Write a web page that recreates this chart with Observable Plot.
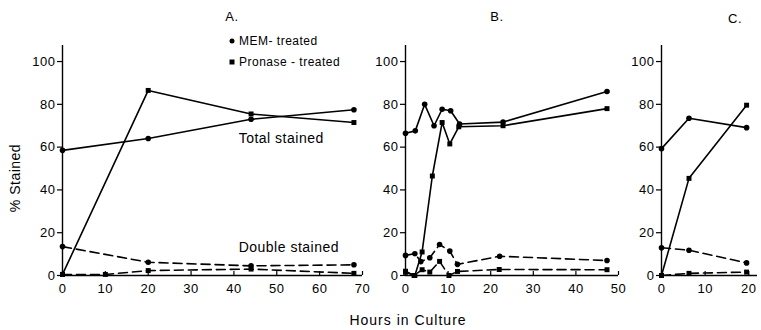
<!DOCTYPE html>
<html><head><meta charset="utf-8">
<script src="https://cdn.jsdelivr.net/npm/d3@7"></script>
<script src="https://cdn.jsdelivr.net/npm/@observablehq/plot@0.6"></script>
<style>
body{margin:0;background:#fff;}
#chart{position:relative;width:761px;height:330px;font-family:"Liberation Sans",Arial,Helvetica,sans-serif;color:#000;overflow:hidden;}
#chart svg{position:absolute;top:0;}
.lbl{position:absolute;white-space:pre;letter-spacing:0.5px;line-height:1;}
.mk{position:absolute;background:#000;width:5px;height:5px;transform:translate(-50%,-50%);}
</style></head><body><div id="chart"></div>
<script>
// ---- data ----
const treatments = ["MEM", "Pronase"];
const legendLabels = ["MEM- treated", "Pronase - treated"];
const panelLabels = ["A.", "B.", "C."];
const annotationLabels = ["Total stained", "Double stained"];
const yTicks = [0, 20, 40, 60, 80, 100];
const xTicksA = [0, 10, 20, 30, 40, 50, 60, 70];
const xTicksB = [0, 10, 20, 30, 40, 50];
const xTicksC = [0, 10, 20];

// Panel A
const hoursA = [0, 20, 44, 68];
const hoursA_pronDouble = [0, 10, 20, 44, 68];
const memTotalA = [58.5, 64, 73, 77.5];
const pronTotalA = [0.5, 86.5, 75.5, 71.5];
const memDoubleA = [13.5, 6.2, 4.5, 5];
const pronDoubleA = [0.5, 0.5, 2.3, 3, 1];

// Panel B
const hoursB_memTotal = [0, 2.3, 4.5, 6.7, 8.6, 10.6, 12.7, 22.9, 47.3];
const memTotalB = [66.5, 67.6, 80, 70, 77.7, 77, 70.8, 71.7, 86];
const hoursB_pronTotal = [0, 2.2, 3.9, 6.3, 8.6, 10.4, 12.5, 22.9, 47.3];
const pronTotalB = [1.5, 0, 11, 46.5, 71.5, 61.5, 69.5, 70, 78];
const hoursB_memDouble = [0, 2.2, 3.6, 5.7, 8, 10.4, 12.2, 22.1, 47.3];
const memDoubleB = [9.4, 10.2, 6.5, 8.3, 14.5, 11.4, 5.2, 9, 7];
const hoursB_pronDouble = [0, 2, 3.9, 5.7, 8, 10.2, 12.2, 22, 47.3];
const pronDoubleB = [2, 0, 2.7, 1.6, 6.6, 0, 1.9, 2.8, 2.7];

// Panel C
const hoursC = [0, 6.3, 19.5];
const memTotalC = [59.3, 73.5, 69.1];
const pronTotalC = [0, 45.4, 79.6];
const memDoubleC = [13, 11.8, 5.9];
const pronDoubleC = [0, 1, 1.6];

// ---- build tables ----
function series(treatment, measure, hours, values) {
  return hours.map((h, i) => ({treatment, measure, key: treatment + measure, hour: h, value: values[i]}));
}
const rowsA = [
  ...series("MEM", "total", hoursA, memTotalA),
  ...series("Pronase", "total", hoursA, pronTotalA),
  ...series("MEM", "double", hoursA, memDoubleA),
  ...series("Pronase", "double", hoursA_pronDouble, pronDoubleA)
];
const rowsB = [
  ...series("MEM", "total", hoursB_memTotal, memTotalB),
  ...series("Pronase", "total", hoursB_pronTotal, pronTotalB),
  ...series("MEM", "double", hoursB_memDouble, memDoubleB),
  ...series("Pronase", "double", hoursB_pronDouble, pronDoubleB)
];
const rowsC = [
  ...series("MEM", "total", hoursC, memTotalC),
  ...series("Pronase", "total", hoursC, pronTotalC),
  ...series("MEM", "double", hoursC, memDoubleC),
  ...series("Pronase", "double", hoursC, pronDoubleC)
];

const ink = "#000";
const font = '"Liberation Sans", Arial, Helvetica, sans-serif';

function panel({rows, width, marginLeft, marginRight, xDomain, xTicks, extra = []}) {
  return Plot.plot({
    width, height: 330,
    marginTop: 45, marginBottom: 55, marginLeft, marginRight,
    x: {domain: xDomain},
    y: {domain: [0, 107.5]},
    symbol: {domain: treatments, range: ["circle", "square"]},
    style: {fontFamily: font, fontSize: "13px", letterSpacing: "0.5px", background: "none", overflow: "visible", color: ink},
    marks: [
      Plot.axisY({ticks: yTicks, tickSize: 5, tickPadding: 2, label: null, stroke: ink, strokeWidth: 1.2}),
      Plot.axisX({ticks: xTicks, tickSize: -4, tickPadding: 12, label: null, stroke: ink, strokeWidth: 1.2}),
      Plot.ruleX([xDomain[0]], {stroke: ink, strokeWidth: 1.4}),
      Plot.ruleY([0], {stroke: ink, strokeWidth: 1.4}),
      Plot.line(rows.filter(d => d.measure === "total"), {x: "hour", y: "value", z: "key", stroke: ink, strokeWidth: 1.6}),
      Plot.line(rows.filter(d => d.measure === "double"), {x: "hour", y: "value", z: "key", stroke: ink, strokeWidth: 1.6, strokeDasharray: "9,5"}),
      Plot.dot(rows, {x: "hour", y: "value", symbol: "treatment", fill: ink, r: 2.8}),
      ...extra
    ]
  });
}

const chart = document.getElementById("chart");

const svgA = panel({
  rows: rowsA, width: 380, marginLeft: 62, marginRight: 18, xDomain: [0, 70], xTicks: xTicksA,
  extra: [
    Plot.text([annotationLabels[0]], {x: 41.1, y: 64.2, text: d => d, textAnchor: "start", fontSize: 14, fill: ink}),
    Plot.text([annotationLabels[1]], {x: 41.1, y: 13.2, text: d => d, textAnchor: "start", fontSize: 14, fill: ink})
  ]
});
svgA.style.left = "0px";
const svgB = panel({rows: rowsB, width: 258, marginLeft: 35, marginRight: 10, xDomain: [0, 50], xTicks: xTicksB});
svgB.style.left = "370px";
const svgC = panel({rows: rowsC, width: 133, marginLeft: 33, marginRight: 4, xDomain: [0, 22], xTicks: xTicksC});
svgC.style.left = "628px";
chart.append(svgA, svgB, svgC);

// ---- HTML labels ----
function label(text, x, y, size, transform) {
  const el = document.createElement("div");
  el.className = "lbl";
  el.textContent = text;
  el.style.left = x + "px";
  el.style.top = y + "px";
  el.style.fontSize = size + "px";
  el.style.transform = transform;
  chart.append(el);
  return el;
}
const centers = [[232, 16], [497, 16], [735, 18]];
panelLabels.forEach((t, i) => label(t, centers[i][0], centers[i][1], 13, "translate(-50%,-50%)"));
// legend
legendLabels.forEach((t, i) => {
  const y = i === 0 ? 41 : 61.5;
  const m = document.createElement("div");
  m.className = "mk";
  m.style.left = "232px"; m.style.top = y + "px";
  if (treatments[i] === "MEM") m.style.borderRadius = "50%";
  chart.append(m);
  label(t, 239, y, 12, "translate(0,-50%)");
});
label("% Stained", 15, 178, 14, "translate(-50%,-50%) rotate(-90deg)");
const xl = label("Hours in Culture", 408, 320, 14, "translate(-50%,-50%)");
xl.style.letterSpacing = "1px";
</script></body></html>
